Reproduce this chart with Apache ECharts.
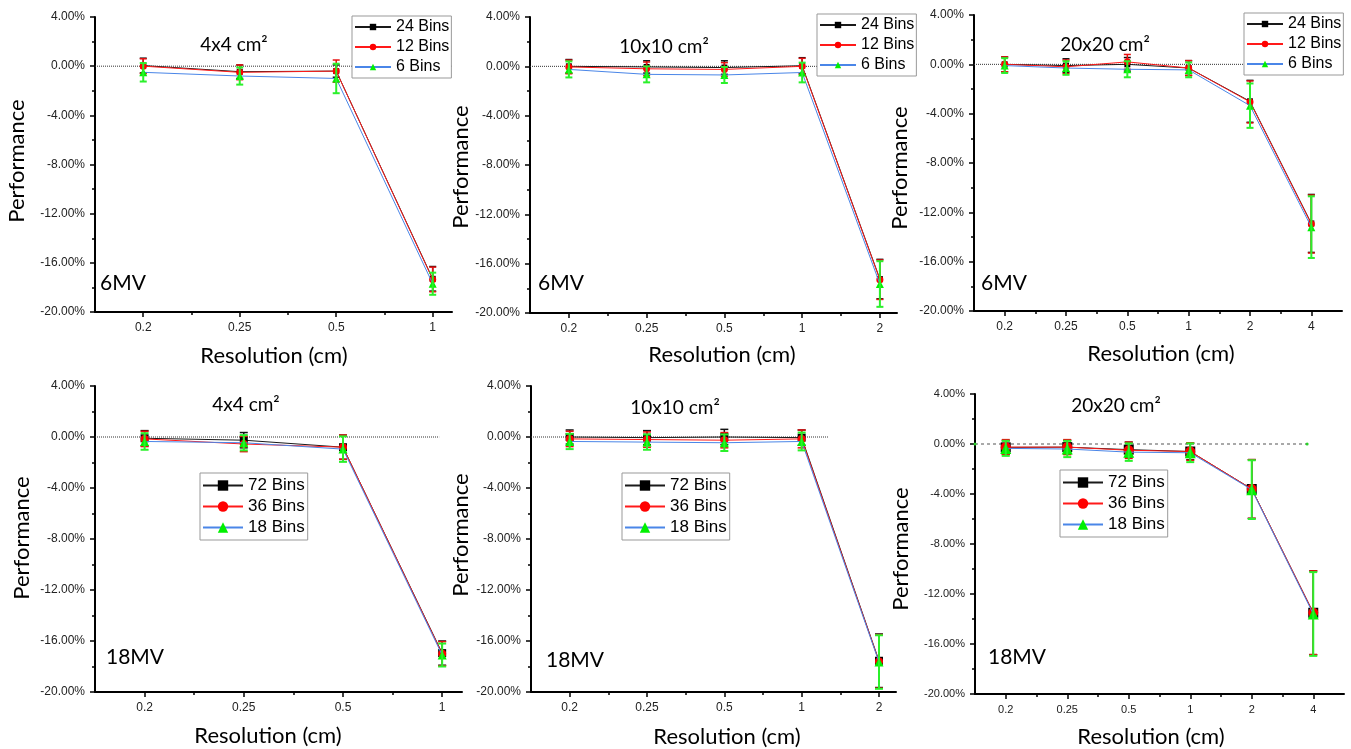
<!DOCTYPE html>
<html>
<head>
<meta charset="utf-8">
<script src="https://cdn.jsdelivr.net/npm/echarts@6/dist/echarts.min.js"></script>
<style>
  html, body { margin: 0; padding: 0; background: #fff; }
  #chart { width: 1351px; height: 749px; }
</style>
</head>
<body>
<div id="chart"></div>
<script>
// Resolution tick labels (cm)
const res4 = ['0.2', '0.25', '0.5', '1'];
const res5 = ['0.2', '0.25', '0.5', '1', '2'];
const res6 = ['0.2', '0.25', '0.5', '1', '2', '4'];

// Legend names
const binsMV6 = ['24 Bins', '12 Bins', '6 Bins'];
const binsMV18 = ['72 Bins', '36 Bins', '18 Bins'];

// 6MV, 4x4 cm² — performance (%) and error (±%)
const mv6f4_b24 = [0.05, -0.45, -0.40, -17.30];
const mv6f4_b12 = [0.00, -0.50, -0.40, -17.35];
const mv6f4_b6  = [-0.50, -0.80, -1.00, -17.70];
const mv6f4_e24 = [0.60, 0.55, 0.50, 1.00];
const mv6f4_e12 = [0.60, 0.60, 0.90, 1.00];
const mv6f4_e6  = [0.75, 0.70, 1.20, 0.90];

// 6MV, 10x10 cm²
const mv6f10_b24 = [0.00, -0.05, -0.10, 0.05, -17.25];
const mv6f10_b12 = [-0.05, -0.20, -0.25, 0.00, -17.30];
const mv6f10_b6  = [-0.25, -0.65, -0.70, -0.50, -17.65];
const mv6f10_e24 = [0.55, 0.50, 0.55, 0.65, 1.60];
const mv6f10_e12 = [0.55, 0.55, 0.55, 0.65, 1.60];
const mv6f10_e6  = [0.65, 0.65, 0.65, 0.80, 1.85];

// 6MV, 20x20 cm²
const mv6f20_b24 = [0.00, -0.10, 0.00, -0.30, -3.00, -12.90];
const mv6f20_b12 = [0.00, -0.20, 0.20, -0.30, -3.05, -12.95];
const mv6f20_b6  = [-0.10, -0.30, -0.40, -0.45, -3.35, -13.20];
const mv6f20_e24 = [0.60, 0.55, 0.55, 0.60, 1.70, 2.35];
const mv6f20_e12 = [0.60, 0.55, 0.60, 0.60, 1.70, 2.35];
const mv6f20_e6  = [0.60, 0.55, 0.65, 0.60, 1.80, 2.50];

// 18MV, 4x4 cm²
const mv18f4_b72 = [-0.10, -0.25, -0.80, -16.95];
const mv18f4_b36 = [-0.15, -0.55, -0.80, -17.00];
const mv18f4_b18 = [-0.35, -0.45, -0.95, -17.10];
const mv18f4_e72 = [0.60, 0.60, 0.95, 0.95];
const mv18f4_e36 = [0.60, 0.60, 0.95, 0.95];
const mv18f4_e18 = [0.65, 0.60, 1.00, 0.90];

// 18MV, 10x10 cm²
const mv18f10_b72 = [0.00, -0.05, 0.00, -0.05, -17.55];
const mv18f10_b36 = [-0.15, -0.20, -0.25, -0.15, -17.60];
const mv18f10_b18 = [-0.35, -0.40, -0.45, -0.35, -17.65];
const mv18f10_e72 = [0.55, 0.55, 0.60, 0.60, 2.10];
const mv18f10_e36 = [0.60, 0.60, 0.60, 0.70, 2.10];
const mv18f10_e18 = [0.60, 0.60, 0.65, 0.70, 2.10];

// 18MV, 20x20 cm²
const mv18f20_b72 = [-0.27, -0.25, -0.45, -0.60, -3.60, -13.50];
const mv18f20_b36 = [-0.25, -0.25, -0.50, -0.60, -3.60, -13.50];
const mv18f20_b18 = [-0.35, -0.40, -0.65, -0.70, -3.65, -13.60];
const mv18f20_e72 = [0.55, 0.55, 0.60, 0.65, 2.35, 3.35];
const mv18f20_e36 = [0.60, 0.60, 0.65, 0.70, 2.35, 3.35];
const mv18f20_e18 = [0.60, 0.65, 0.70, 0.75, 2.35, 3.35];

// Y axis range / step (%)
const yMin = -20, yMax = 4, yStep = 4;

// Series styling: line colour, marker colour, error-bar colour / width, marker shape
const LINE = ['#1a1a1a', '#ff1a1a', '#4a86e8'];
const MARK = ['#000000', '#ff0000', '#00f000'];
const ERR  = ['#111111', '#e81010', '#2bf02b'];
const ERR_W = [1.5, 1.5, 2];
const SYMBOL = ['rect', 'circle', 'triangle'];

const SANS = 'Liberation Sans';
const LABEL_FONT = 'Lato';

const panels = [
  { grid: { left: 95, top: 17, width: 357, height: 295 }, xMax: 4.2, zeroEnd: 4.2,
    res: res4, names: binsMV6, vals: [mv6f4_b24, mv6f4_b12, mv6f4_b6], errs: [mv6f4_e24, mv6f4_e12, mv6f4_e6],
    field: '4x4 cm²', beam: '6MV', legendPos: { left: 352, top: 16 }, small: true,
    fieldPos: [234, 45], beamPos: [100, 283], perfPos: [17, 161], resPos: [274, 356],
    tickFont: 12, sym: [6, 7, 8], cap: 7, zeroDash: 'dotted' },
  { grid: { left: 530, top: 17, width: 367, height: 296 }, xMax: 5.22, zeroEnd: 5.22,
    res: res5, names: binsMV6, vals: [mv6f10_b24, mv6f10_b12, mv6f10_b6], errs: [mv6f10_e24, mv6f10_e12, mv6f10_e6],
    field: '10x10 cm²', beam: '6MV', legendPos: { left: 817, top: 14 }, small: true,
    fieldPos: [664, 47], beamPos: [538, 283], perfPos: [461, 167], resPos: [722, 355],
    tickFont: 12, sym: [6, 7, 8], cap: 7, zeroDash: 'dotted' },
  { grid: { left: 974, top: 15, width: 368, height: 296 }, xMax: 6.5, zeroEnd: 6.5,
    res: res6, names: binsMV6, vals: [mv6f20_b24, mv6f20_b12, mv6f20_b6], errs: [mv6f20_e24, mv6f20_e12, mv6f20_e6],
    field: '20x20 cm²', beam: '6MV', legendPos: { left: 1244, top: 13 }, small: true,
    fieldPos: [1105, 45], beamPos: [981, 283], perfPos: [900, 168], resPos: [1161, 354],
    tickFont: 12, sym: [6, 7, 8], cap: 7, zeroDash: 'dotted' },
  { grid: { left: 95, top: 386, width: 367, height: 306 }, xMax: 4.2, zeroEnd: 3.97,
    res: res4, names: binsMV18, vals: [mv18f4_b72, mv18f4_b36, mv18f4_b18], errs: [mv18f4_e72, mv18f4_e36, mv18f4_e18],
    field: '4x4 cm²', beam: '18MV', legendPos: { left: 200, top: 473 }, small: false,
    fieldPos: [246, 405], beamPos: [106, 657], perfPos: [22, 538], resPos: [268, 736],
    tickFont: 12, sym: [8, 8, 9], cap: 8, zeroDash: 'dotted' },
  { grid: { left: 531, top: 386, width: 365, height: 306 }, xMax: 5.22, zeroEnd: 4.34,
    res: res5, names: binsMV18, vals: [mv18f10_b72, mv18f10_b36, mv18f10_b18], errs: [mv18f10_e72, mv18f10_e36, mv18f10_e18],
    field: '10x10 cm²', beam: '18MV', legendPos: { left: 622, top: 473 }, small: false,
    fieldPos: [675, 408], beamPos: [546, 660], perfPos: [461, 535], resPos: [727, 737],
    tickFont: 12, sym: [8, 8, 9], cap: 8, zeroDash: 'dotted' },
  { grid: { left: 975, top: 394, width: 369, height: 300 }, xMax: 6.5, zeroEnd: 5.9,
    res: res6, names: binsMV18, vals: [mv18f20_b72, mv18f20_b36, mv18f20_b18], errs: [mv18f20_e72, mv18f20_e36, mv18f20_e18],
    field: '20x20 cm²', beam: '18MV', legendPos: { left: 1060, top: 470 }, small: false,
    fieldPos: [1116, 406], beamPos: [988, 657], perfPos: [901, 549], resPos: [1151, 737],
    tickFont: 11, sym: [10, 10, 11], cap: 8, zeroDash: [3, 3], zeroDot: true }
];

const grids = [], xAxes = [], yAxes = [], series = [], legends = [], texts = [];

function errorBarRenderer(color, cap, width) {
  return function (params, api) {
    const x = api.value(0), y = api.value(1), e = api.value(2);
    const hi = api.coord([x, y + e]);
    const lo = api.coord([x, y - e]);
    const w = cap / 2;
    const st = { stroke: color, lineWidth: width };
    return {
      type: 'group',
      children: [
        { type: 'line', shape: { x1: hi[0], y1: hi[1], x2: lo[0], y2: lo[1] }, style: st },
        { type: 'line', shape: { x1: hi[0] - w, y1: hi[1], x2: hi[0] + w, y2: hi[1] }, style: st },
        { type: 'line', shape: { x1: lo[0] - w, y1: lo[1], x2: lo[0] + w, y2: lo[1] }, style: st }
      ]
    };
  };
}

panels.forEach((p, i) => {
  grids.push(Object.assign({ containLabel: false }, p.grid));

  const idx = p.res.map((_, k) => k + 1);
  const halves = [];
  for (let v = 1.5; v < p.xMax; v += 1) halves.push(v);

  // main x axis: resolution positions 1..n with their labels
  xAxes.push({
    gridIndex: i, type: 'value', min: 0.5, max: p.xMax, position: 'bottom',
    axisLine: { show: true, onZero: false, lineStyle: { color: '#000', width: 2 } },
    axisTick: { show: true, customValues: idx, length: 5, lineStyle: { color: '#000', width: 1.5 } },
    axisLabel: {
      show: true, customValues: idx, margin: 10, fontSize: p.tickFont, color: '#222', fontFamily: SANS,
      formatter: v => p.res[Math.round(v) - 1] || ''
    },
    splitLine: { show: false }
  });
  // minor ticks between resolutions
  xAxes.push({
    gridIndex: i, type: 'value', min: 0.5, max: p.xMax, position: 'bottom',
    axisLine: { show: false, onZero: false },
    axisTick: { show: true, customValues: halves, length: 3, lineStyle: { color: '#000', width: 1.5 } },
    axisLabel: { show: false },
    splitLine: { show: false }
  });

  yAxes.push({
    gridIndex: i, type: 'value', min: yMin, max: yMax, interval: yStep,
    axisLine: { show: true, onZero: false, lineStyle: { color: '#000', width: 2 } },
    axisTick: { show: true, length: 5, lineStyle: { color: '#000', width: 1.5 } },
    minorTick: { show: true, splitNumber: 2, length: 3, lineStyle: { color: '#000', width: 1.5 } },
    axisLabel: {
      margin: 10, fontSize: p.tickFont, color: '#222', fontFamily: SANS,
      formatter: v => v.toFixed(2) + '%'
    },
    splitLine: { show: false }
  });

  const xMainIdx = i * 2;

  // zero reference line
  series.push({
    type: 'line', xAxisIndex: xMainIdx, yAxisIndex: i, silent: true,
    data: [[0.5, 0], [p.zeroEnd, 0]],
    symbol: p.zeroDot ? 'circle' : 'none', symbolSize: 3, showSymbol: !!p.zeroDot,
    itemStyle: { color: '#2bd02b' },
    lineStyle: { color: p.zeroDot ? '#555' : '#333', width: 1, type: p.zeroDash }, z: 1
  });

  p.names.forEach((name, s) => {
    series.push({
      name: name, type: 'line', xAxisIndex: xMainIdx, yAxisIndex: i,
      data: p.vals[s].map((v, k) => [idx[k], v]),
      symbol: SYMBOL[s], symbolSize: p.sym[s],
      lineStyle: { color: LINE[s], width: 1 },
      itemStyle: { color: MARK[s] },
      emphasis: { disabled: true },
      z: 2 + s * 2
    });
    series.push({
      type: 'custom', xAxisIndex: xMainIdx, yAxisIndex: i, silent: true,
      data: p.vals[s].map((v, k) => [idx[k], v, p.errs[s][k]]),
      encode: { x: 0, y: 1 },
      renderItem: errorBarRenderer(ERR[s], p.cap, ERR_W[s]),
      z: 3 + s * 2
    });
  });

  const lg = p.small
    ? { itemWidth: 36, itemHeight: 8, fontSize: 16, lineHeight: 16, padding: [3, 2, 3, 2] }
    : { itemWidth: 40, itemHeight: 13, fontSize: 17, lineHeight: 17, padding: [4, 3, 4, 2] };
  legends.push({
    show: true, orient: 'vertical', left: p.legendPos.left, top: p.legendPos.top,
    data: p.names, selectedMode: false,
    itemWidth: lg.itemWidth, itemHeight: lg.itemHeight, itemGap: 4, padding: lg.padding,
    borderColor: '#999', borderWidth: 1, backgroundColor: '#fff', z: 20,
    textStyle: { fontSize: lg.fontSize, lineHeight: lg.lineHeight, fontFamily: SANS, color: '#000' }
  });

  const txt = (x, y, text, size, align, rot) => ({
    type: 'text', x: x, y: y, rotation: rot || 0, z: 30, silent: true,
    style: {
      text: text, font: 'normal ' + size + 'px ' + LABEL_FONT, fill: '#000',
      align: align, textAlign: align, verticalAlign: 'middle', textVerticalAlign: 'middle'
    }
  });
  texts.push(txt(p.fieldPos[0], p.fieldPos[1], p.field, 19, 'center'));
  texts.push(txt(p.beamPos[0], p.beamPos[1], p.beam, 21, 'left'));
  texts.push(txt(p.perfPos[0], p.perfPos[1], 'Performance', 22, 'center', Math.PI / 2));
  texts.push(txt(p.resPos[0], p.resPos[1], 'Resolution (cm)', 22, 'center'));
});

const chart = echarts.init(document.getElementById('chart'), null, { renderer: 'canvas' });
chart.setOption({
  backgroundColor: '#fff',
  animation: false,
  grid: grids,
  xAxis: xAxes,
  yAxis: yAxes,
  legend: legends,
  series: series,
  graphic: { elements: texts }
});
</script>
</body>
</html>
